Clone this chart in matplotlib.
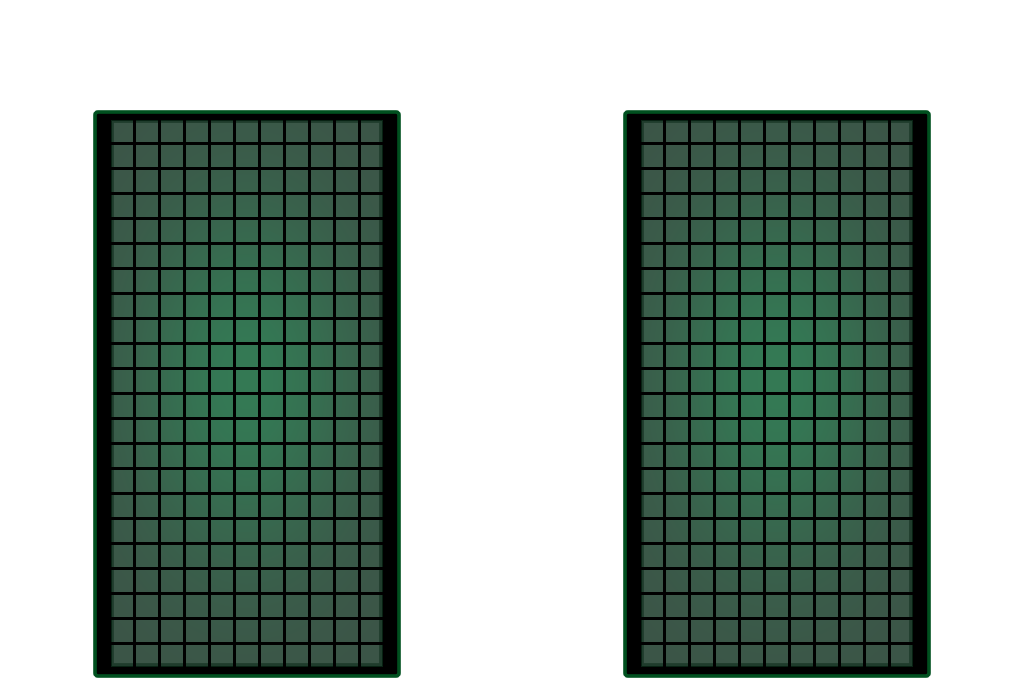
"""Two glowing green cell grids side by side."""
import matplotlib

matplotlib.use("Agg")
import matplotlib.pyplot as plt
import numpy as np
from matplotlib.patches import FancyBboxPatch, Rectangle

# grid shape per panel
panel_names = ["left", "right"]
panel_rows = [22, 22]
panel_cols = [11, 11]
# left pixel edge of each grid in the figure
panel_x0 = [109, 639]

W, H = 1024, 700
CELL = 25  # px per cell
GRID_Y0 = 118

EDGE_RGB = np.array([60, 84, 71]) / 255
CENTER_RGB = np.array([52, 122, 85]) / 255

fig = plt.figure(figsize=(W / 100, H / 100), dpi=100)
fig.patch.set_facecolor("white")

for name, n_rows, n_cols, x0 in zip(panel_names, panel_rows, panel_cols, panel_x0):
    # axes box in pixels, a little larger than the frame
    px_l, px_r = x0 - 17, x0 + n_cols * CELL + 18
    py_t, py_b = GRID_Y0 - 9, GRID_Y0 + n_rows * CELL + 11
    ax = fig.add_axes([px_l / W, 1 - py_b / H, (px_r - px_l) / W, (py_b - py_t) / H])
    ax.axis("off")

    # black body with a green rounded frame
    frame = FancyBboxPatch(
        (-14 / CELL, -6 / CELL),
        n_cols + 29 / CELL,
        n_rows + 14 / CELL,
        boxstyle="round,pad=0,rounding_size=0.12",
        facecolor="black",
        edgecolor="#00501f",
        linewidth=2.6,
        zorder=1,
    )
    ax.add_patch(frame)

    # soft glow in the cell area (style only)
    gx, gy = np.meshgrid(np.linspace(0, n_cols, 220), np.linspace(0, n_rows, 440))
    t = np.exp(-(((gx - n_cols / 2) / 3.3) ** 2 + ((gy - n_rows * 0.475) / 5.2) ** 2) / 2)
    img = EDGE_RGB + t[..., None] * (CENTER_RGB - EDGE_RGB)
    ax.imshow(img, extent=(0, n_cols, n_rows, 0), interpolation="bilinear",
              aspect="auto", zorder=2)

    clip = Rectangle((0, 0), n_cols, n_rows, transform=ax.transData)
    for lw, col in [(7.0, "#1f3c2c"), (3.6, "#082213")]:
        band = Rectangle((0, 0), n_cols, n_rows, facecolor="none",
                         edgecolor=col, linewidth=lw, zorder=3)
        ax.add_patch(band)
        band.set_clip_path(clip)

    # cell outlines
    ax.pcolormesh(
        np.arange(n_cols + 1),
        np.arange(n_rows + 1),
        np.zeros((n_rows, n_cols)),
        facecolor="none",
        edgecolors="black",
        linewidth=1.9,
        zorder=4,
    )
    ax.set_xlim((px_l - x0) / CELL, (px_r - x0) / CELL)
    ax.set_ylim((py_b - GRID_Y0) / CELL, (py_t - GRID_Y0) / CELL)

fig.savefig("out.png", dpi=100)
